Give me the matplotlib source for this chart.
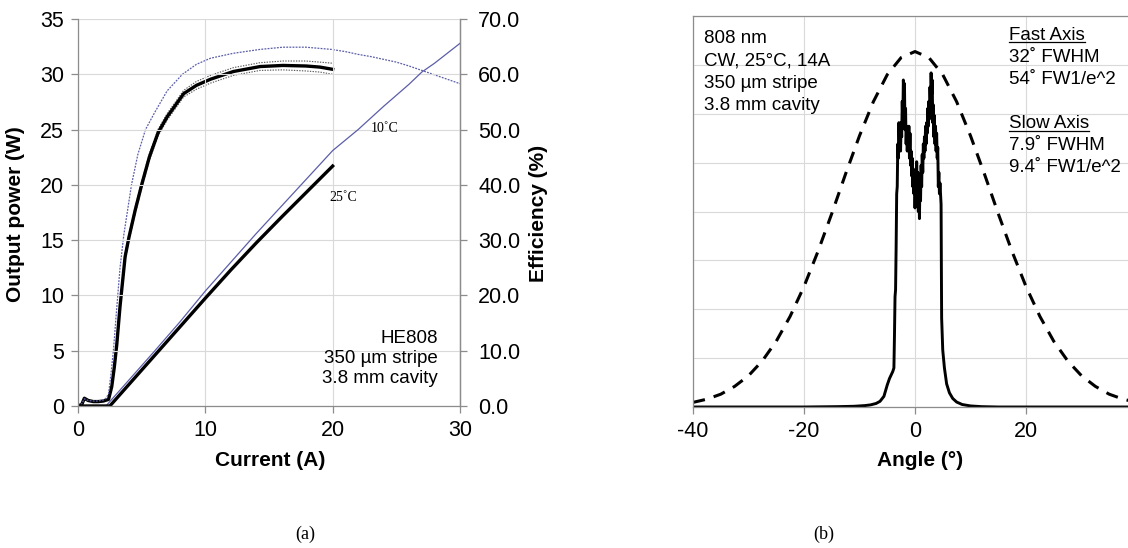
import matplotlib
matplotlib.use("Agg")
import matplotlib.pyplot as plt
from matplotlib.lines import Line2D
from matplotlib.ticker import FormatStrFormatter, MultipleLocator

# ---------------- data: panel (a) ----------------
I_P25 = [0, 2.5, 3, 4, 5, 6, 8, 10, 12, 14, 16, 18, 20]
P_25 = [0, 0, 0.65, 1.95, 3.25, 4.55, 7.15, 9.75, 12.3, 14.75, 17.1, 19.4, 21.7]

I_P10 = [0, 2.2, 2.5, 3, 4, 5, 6, 8, 10, 12, 14, 16, 18, 20, 22, 24, 26, 27, 28, 29, 30]
P_10 = [0, 0, 0.4, 1.05, 2.35, 3.65, 4.95, 7.6, 10.4, 13.0, 15.6, 18.1, 20.6, 23.1,
        25.0, 27.1, 29.1, 30.2, 31.0, 31.9, 32.8]

I_E10 = [0, 0.3, 0.5, 0.8, 1.2, 1.6, 2.0, 2.2, 2.4, 2.6, 2.8, 3.0, 3.3, 3.6, 4.2, 4.7,
         5.3, 6.0, 7.0, 8.2, 9.3, 10.4, 12.2, 14.3, 16.1, 17.9, 19.9, 21, 22, 23, 24,
         25, 26, 27, 28, 29, 30]
E_10 = [0, 0.4, 1.3, 1.0, 0.9, 0.9, 1.1, 1.4, 2.2, 6.0, 10.5, 16.5, 25, 31, 40, 45.5,
        50, 53, 57, 60, 61.8, 62.9, 63.8, 64.5, 64.9, 64.9, 64.5, 64.1, 63.6, 63.2, 62.7,
        62.2, 61.5, 60.7, 59.9, 59.1, 58.3]

I_E25 = [0, 0.3, 0.5, 0.8, 1.2, 1.6, 2.0, 2.4, 2.65, 2.85, 3.04, 3.3, 3.7, 4.0, 4.5,
         5.0, 5.6, 6.3, 7.0, 8.3, 9.3, 10.4, 12.2, 14.3, 16.1, 17.9, 19.0, 20.0]
E_25 = [0, 0.3, 1.4, 1.0, 0.8, 0.8, 0.9, 1.2, 3.5, 7.0, 11.0, 18.0, 27.0, 30.5, 35.5,
        40.0, 45.0, 49.5, 52.3, 56.5, 58.0, 59.1, 60.5, 61.4, 61.6, 61.5, 61.3, 60.9]

I_band = [3.7, 4.0, 4.5, 5.0, 5.6, 6.3, 7.0, 8.3, 9.3, 10.4, 12.2, 14.3, 16.1, 17.9, 19.0, 20.0]
E_25_hi = [27.6, 31.1, 36.1, 40.6, 45.6, 50.1, 52.9, 57.1, 58.7, 59.8, 61.2, 62.1, 62.4,
           62.4, 62.2, 62.0]
E_25_lo = [26.4, 29.9, 34.9, 39.4, 44.4, 48.9, 51.7, 55.9, 57.3, 58.4, 59.8, 60.7, 60.8,
           60.6, 60.4, 60.0]

# ---------------- data: panel (b) ----------------
fast_angle = [-40, -37.5, -35, -32.5, -30, -27.5, -25, -22.5, -20, -17.5, -15, -12.5, -10,
              -7.5, -5, -2.5, 0, 2.5, 5, 7.5, 10, 12.5, 15, 17.5, 20, 22.5, 25, 27.5, 30,
              32.5, 35, 37.5, 40]
fast_val = [0.013, 0.022, 0.036, 0.058, 0.088, 0.130, 0.185, 0.255, 0.339, 0.437, 0.544,
            0.656, 0.763, 0.859, 0.935, 0.983, 1.0, 0.983, 0.935, 0.859, 0.763, 0.656,
            0.544, 0.437, 0.339, 0.255, 0.185, 0.130, 0.088, 0.058, 0.036, 0.022, 0.013]

slow_angle = [-40, -20, -14, -11, -9, -8, -7, -6.3, -5.6, -5.0, -4.6, -4.3, -4.0, -3.8,
              -3.7, -3.6, -3.5, -3.4, -3.3, -3.2,
              -3.1, -3.0, -2.9, -2.8, -2.7, -2.6, -2.5, -2.4, -2.3, -2.2, -2.1, -2.0,
              -1.9, -1.8, -1.7, -1.6, -1.5, -1.4, -1.3, -1.2, -1.1, -1.0, -0.9, -0.8,
              -0.7, -0.6, -0.5, -0.4, -0.3, -0.2, -0.1, 0.0, 0.1, 0.2, 0.3, 0.4, 0.5,
              0.6, 0.7, 0.8, 0.9, 1.0, 1.1, 1.2, 1.3, 1.4, 1.5, 1.6, 1.7, 1.8, 1.9, 2.0,
              2.1, 2.2, 2.3, 2.4, 2.5, 2.6, 2.7, 2.8, 2.9, 3.0, 3.1, 3.2, 3.3, 3.4, 3.5,
              3.6, 3.7, 3.8, 3.9, 4.0, 4.1, 4.2, 4.3, 4.4, 4.5, 4.6, 4.7,
              4.75, 4.8, 5.0, 5.3, 5.7, 6.2, 6.8, 7.5, 8.5, 10, 12, 15, 20, 40]
slow_val = [0, 0, 0.001, 0.002, 0.004, 0.006, 0.010, 0.016, 0.030, 0.062, 0.080, 0.090,
            0.100, 0.110, 0.200, 0.310, 0.330, 0.450, 0.600, 0.620,
            0.74, 0.70, 0.80, 0.74, 0.78, 0.72, 0.80, 0.76, 0.86, 0.80, 0.92, 0.88,
            0.91, 0.78, 0.84, 0.74, 0.79, 0.72, 0.77, 0.73, 0.79, 0.70, 0.77, 0.68,
            0.72, 0.65, 0.70, 0.62, 0.67, 0.60, 0.65, 0.56, 0.63, 0.58, 0.69, 0.60, 0.66,
            0.55, 0.62, 0.53, 0.64, 0.58, 0.68, 0.62, 0.71, 0.66, 0.74, 0.70, 0.76, 0.72,
            0.79, 0.74, 0.80, 0.77, 0.84, 0.79, 0.86, 0.81, 0.90, 0.85, 0.94, 0.88, 0.92,
            0.80, 0.85, 0.76, 0.82, 0.74, 0.79, 0.72, 0.77, 0.70, 0.73, 0.62, 0.66, 0.60,
            0.63, 0.60, 0.57,
            0.40, 0.25, 0.16, 0.11, 0.065, 0.040, 0.024, 0.014, 0.007, 0.003, 0.001,
            0, 0, 0]

x_ticks_a = [0, 10, 20, 30]
y_ticks_a = [0, 5, 10, 15, 20, 25, 30, 35]
y2_ticks_a = [0, 10, 20, 30, 40, 50, 60, 70]
x_ticks_b = [-40, -20, 0, 20]

# ---------------- style ----------------
plt.rcParams['font.family'] = ['Liberation Sans', 'DejaVu Sans']
plt.rcParams['axes.unicode_minus'] = False
W, H = 1128, 548
fig = plt.figure(figsize=(W / 100, H / 100), dpi=100)
GRID = '#d9d9d9'
SPINE = '#8c8c8c'
BLUE = '#5b5ea8'
TICK_FS = 15.5
SERIF = ['Liberation Serif', 'DejaVu Serif']


def fx(px):
    return px / W


def fy(py):
    return 1 - py / H


# ---------------- panel (a) ----------------
ax = fig.add_axes([fx(78), fy(406), fx(460 - 78), (406 - 19) / H])
ax.set_xlim(0, 30)
ax.set_ylim(0, 35)
ax.set_xticks(x_ticks_a)
ax.set_yticks(y_ticks_a)
ax.grid(True, color=GRID, lw=0.8)
ax.set_axisbelow(True)
ax.spines['top'].set_visible(False)
for s in ['left', 'bottom', 'right']:
    ax.spines[s].set_color(SPINE)
    ax.spines[s].set_linewidth(0.9)
ax.tick_params(axis='both', colors=SPINE, labelcolor='black', labelsize=TICK_FS,
               length=5, width=0.9, pad=5)

ax2 = ax.twinx()
ax2.set_ylim(0, 70)
ax2.set_yticks(y2_ticks_a)
ax2.yaxis.set_major_formatter(FormatStrFormatter('%.1f'))
for s in ['top', 'left', 'bottom']:
    ax2.spines[s].set_visible(False)
ax2.spines['right'].set_color(SPINE)
ax2.spines['right'].set_linewidth(0.9)
ax2.tick_params(axis='y', colors=SPINE, labelcolor='black', labelsize=TICK_FS,
                length=5, width=0.9, pad=8)

# efficiency curves (right axis)
ax2.plot(I_band, E_25_hi, color='#555555', lw=0.8, ls=(0, (1.2, 1.2)))
ax2.plot(I_band, E_25_lo, color='#555555', lw=0.8, ls=(0, (1.2, 1.2)))
ax2.plot(I_E25, E_25, color='black', lw=2.4)
ax2.plot(I_E10, E_10, color=BLUE, lw=0.9, ls=(0, (1.5, 1.0)))
# power curves (left axis)
ax.plot(I_P10, P_10, color=BLUE, lw=0.9)
ax.plot(I_P25, P_25, color='black', lw=2.4)
ax.set_zorder(ax2.get_zorder() + 1)
ax.patch.set_visible(False)

ax.text(24.1, 25.1, '10˚C', fontsize=10, family=SERIF, ha='center', va='center')
ax.text(20.8, 18.9, '25˚C', fontsize=10, family=SERIF, ha='center', va='center')
ax.text(0.943, 0.05, 'HE808\n350 µm stripe\n3.8 mm cavity', transform=ax.transAxes,
        ha='right', va='bottom', fontsize=13.5, linespacing=1.22)

fig.text(fx(16), fy(214), 'Output power (W)', rotation=90, ha='center', va='center',
         fontsize=15, fontweight='bold')
fig.text(fx(538), fy(213), 'Efficiency (%)', rotation=90, ha='center', va='center',
         fontsize=15, fontweight='bold')
fig.text(fx(270), fy(460), 'Current (A)', ha='center', va='center', fontsize=15,
         fontweight='bold')
fig.text(fx(305), fy(534), '(a)', ha='center', va='center', fontsize=13, family=SERIF)

# ---------------- panel (b) ----------------
bx = fig.add_axes([fx(693), fy(407), fx(1137 - 693), (407 - 16) / H])
bx.set_xlim(-40, 40)
bx.set_ylim(0, 1.1)
bx.set_xticks(x_ticks_b)
bx.yaxis.set_major_locator(MultipleLocator(1.1 / 8))
bx.grid(True, color=GRID, lw=0.8)
bx.set_axisbelow(True)
bx.spines['right'].set_visible(False)
for s in ['left', 'bottom', 'top']:
    bx.spines[s].set_color(SPINE)
    bx.spines[s].set_linewidth(0.9)
bx.tick_params(axis='y', left=False, labelleft=False)
bx.tick_params(axis='x', colors=SPINE, labelcolor='black', labelsize=TICK_FS,
               length=5, width=0.9, pad=5)

bx.plot(fast_angle, fast_val, color='black', lw=2.2, ls=(0, (4, 3)))
bx.plot(slow_angle, slow_val, color='black', lw=2.1)


def ax_xy(px, py):
    return (px - 693) / 444, (407 - py) / 391


left_lines = [('808 nm', 43.3), ('CW, 25°C, 14A', 65.5), ('350 µm stripe', 87.5),
              ('3.8 mm cavity', 109.5)]
for txt, py in left_lines:
    x, y = ax_xy(704, py)
    bx.text(x, y, txt, transform=bx.transAxes, ha='left', va='baseline', fontsize=13.5)

right_lines = [('Fast Axis', 39.5, True), ('32˚ FWHM', 62.5, False),
               ('54˚ FW1/e^2', 84.5, False), ('Slow Axis', 128.5, True),
               ('7.9˚ FWHM', 150.5, False), ('9.4˚ FW1/e^2', 172.5, False)]
texts_ul = []
for txt, py, ul in right_lines:
    x, y = ax_xy(1009, py)
    t = bx.text(x, y, txt, transform=bx.transAxes, ha='left', va='baseline',
                fontsize=13.5)
    if ul:
        texts_ul.append((t, py))

fig.text(fx(920), fy(460), 'Angle (°)', ha='center', va='center', fontsize=15,
         fontweight='bold')
fig.text(fx(824), fy(534), '(b)', ha='center', va='center', fontsize=13, family=SERIF)

fig.canvas.draw()
renderer = fig.canvas.get_renderer()
for t, py in texts_ul:
    bb = t.get_window_extent(renderer)
    yline = fy(py + 2.5)
    fig.add_artist(Line2D([bb.x0 / W, bb.x1 / W], [yline, yline], color='black', lw=0.9))

fig.savefig('out.png', dpi=100)
